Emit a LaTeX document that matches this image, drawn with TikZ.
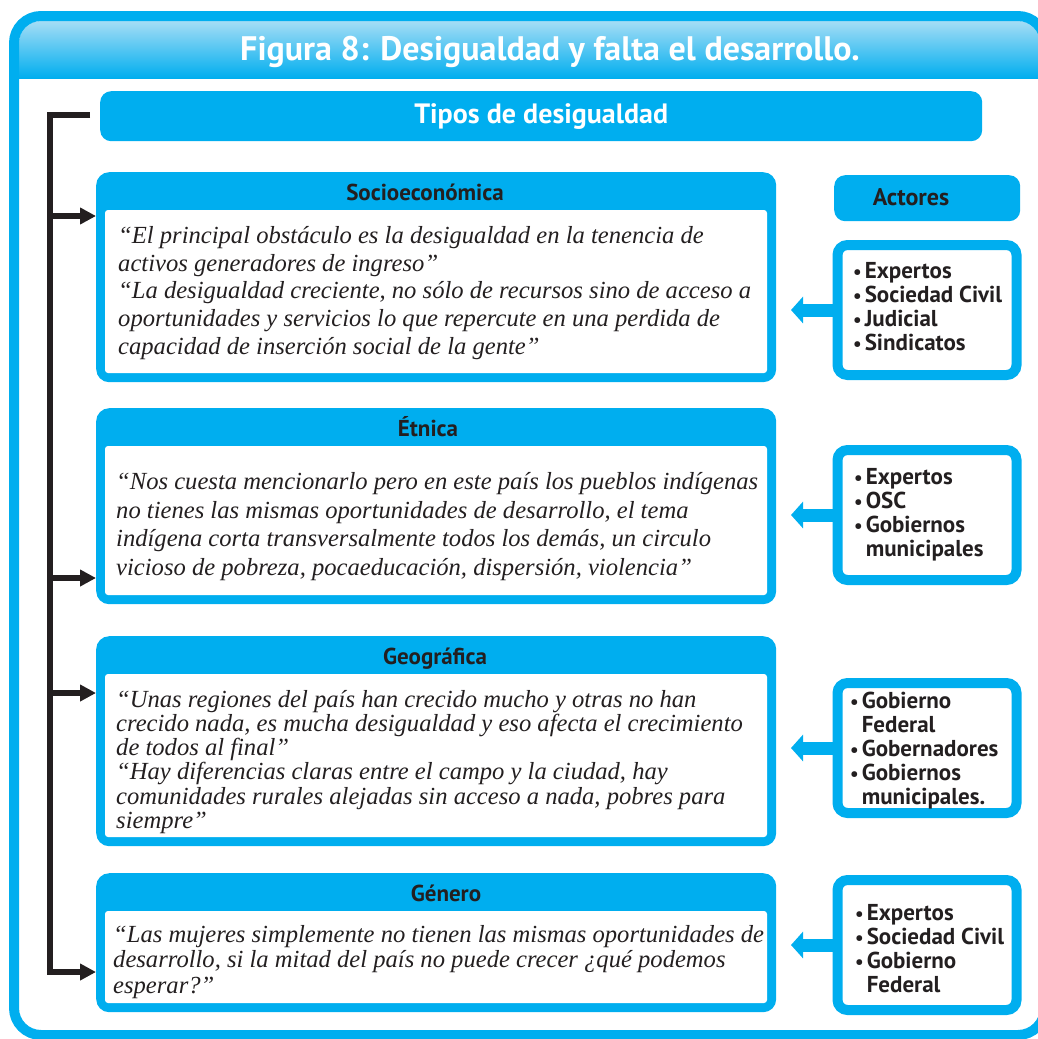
\documentclass[tikz,border=0pt]{standalone}
\usepackage{fontspec}
\setmainfont{Liberation Serif}
\setsansfont{PT Sans}
\usetikzlibrary{arrows.meta}

\definecolor{cyanb}{HTML}{00AEEF}
\definecolor{hdlight}{HTML}{A5DDF5}
\definecolor{inkd}{HTML}{231F20}

\newcommand{\actbul}{{\fontsize{19}{19}\selectfont\textbullet}\hspace{3pt}}
\newcommand{\actind}{\phantom{\actbul}}

\tikzset{
  catbox/.style={fill=cyanb, rounded corners=13pt, minimum width=680pt, inner sep=0pt},
  cathead/.style={font=\sffamily\bfseries\fontsize{23}{26}\selectfont, text=inkd, anchor=base},
  quote/.style={font=\itshape\fontsize{24.6}{#1}\selectfont, text=inkd, align=left, inner sep=0pt, anchor=north west},
  bar/.style={fill=cyanb, rounded corners=11pt, inner sep=0pt},
  actbox/.style={draw=cyanb, line width=10pt, fill=white, rounded corners=10pt, minimum width=179pt, minimum height=130pt},
  acttext/.style={font=\sffamily\bfseries\fontsize{23}{24}\selectfont, text=inkd, align=left, inner sep=0pt, anchor=west},
  actarrow/.style={cyanb, line width=13pt, -{Triangle[width=26pt,length=12pt]}},
  brarrow/.style={inkd, line width=5.5pt, -{Triangle[width=16pt,length=16pt]}},
  spine/.style={brarrow, line join=miter},
}

\begin{document}
\begin{tikzpicture}[x=1pt, y=-1pt]
\useasboundingbox (0,0) rectangle (1038,1039);

% cabecera con degradado
\begin{scope}
  \clip[rounded corners=22pt] (19,21) rectangle (1041,120);
  \shade[top color=hdlight, middle color=cyanb, bottom color=cyanb] (19,21) rectangle (1041,78);
\end{scope}
\draw[cyanb, line width=10pt, rounded corners=27pt] (14,16) rectangle (1045,1035);
\node[font=\sffamily\bfseries\fontsize{34}{38}\selectfont, text=white, anchor=base] (title) at (550,60) {Figura 8: Desigualdad y falta el desarrollo.};

% barras
\node[bar, minimum width=882pt, minimum height=50pt, anchor=north west, text=white,
      font=\sffamily\bfseries\fontsize{28}{30}\selectfont] (tipos) at (100,91) {Tipos de desigualdad};
\node[bar, minimum width=186pt, minimum height=46pt, anchor=north west] (actbar) at (834,175) {};
\node[cathead, font=\sffamily\bfseries\fontsize{24}{26}\selectfont] (actlab) at (911,205) {Actores};

% tipos de desigualdad
\foreach \n/\ytop/\h/\xl/\lab in {soc/172/210/425/Socioeconómica, etn/408/196/428/Étnica,
                                  geo/636/210/435/Geográfica, gen/873/139/446/Género}
{
  \node[catbox, minimum height=\h pt, anchor=north west] (\n) at (96,\ytop) {};
  \fill[white, rounded corners=3pt] (105,\ytop+38) rectangle (767,\ytop+\h-9);
  \node[cathead] (\n head) at (\xl,\ytop+28) {\lab};
}

\node[quote=27.8] (socq) at (118,226) {“El principal obstáculo es la desigualdad en la tenencia de\\
  activos generadores de ingreso”\\
  “La desigualdad creciente, no sólo de recursos sino de acceso a\\
  oportunidades y servicios lo que repercute en una perdida de\\
  capacidad de inserción social de la gente”};
\node[quote=28.7] (etnq) at (116,472) {“Nos cuesta mencionarlo pero en este país los pueblos indígenas\\
  no tienes las mismas oportunidades de desarrollo, el tema\\
  indígena corta transversalmente todos los demás, un circulo\\
  vicioso de pobreza, pocaeducación, dispersión, violencia”};
\node[quote=24.2] (geoq) at (116,690) {“Unas regiones del país han crecido mucho y otras no han\\
  crecido nada, es mucha desigualdad y eso afecta el crecimiento\\
  de todos al final”\\
  “Hay diferencias claras entre el campo y la ciudad, hay\\
  comunidades rurales alejadas sin acceso a nada, pobres para\\
  siempre”};
\node[quote=25.5] (genq) at (113,925) {“Las mujeres simplemente no tienen las mismas oportunidades de\\
  desarrollo, si la mitad del país no puede crecer ¿qué podemos\\
  esperar?”};

% actores
\coordinate (tipx) at (791,0);
\foreach \i/\y in {1/310, 2/515, 3/748, 4/945}
{
  \node[actbox] (act\i) at (927,\y) {};
  \draw[actarrow] (act\i.west) -- (act\i.west -| tipx);
}
\node[acttext] (act1t) at (853,307) {\actbul Expertos\\\actbul Sociedad Civil\\\actbul Judicial\\\actbul Sindicatos};
\node[acttext] (act2t) at (854,515) {\actbul Expertos\\\actbul OSC\\\actbul Gobiernos\\\actind municipales};
\node[acttext] (act3t) at (850,751) {\actbul Gobierno\\\actind Federal\\\actbul Gobernadores\\\actbul Gobiernos\\\actind municipales.};
\node[acttext] (act4t) at (855,949) {\actbul Expertos\\\actbul Sociedad Civil\\\actbul Gobierno\\\actind Federal};

% corchete
\coordinate (brtop) at (90,115);
\foreach \n/\y in {soc/216, etn/578, geo/693}
{
  \coordinate (b\n) at (50,\y);
  \draw[brarrow] (b\n) -- (b\n -| \n.west);
}
\coordinate (bgen) at (50,972);
\draw[spine] (brtop) -| (bgen) -- (bgen -| gen.west);
\end{tikzpicture}
\end{document}
